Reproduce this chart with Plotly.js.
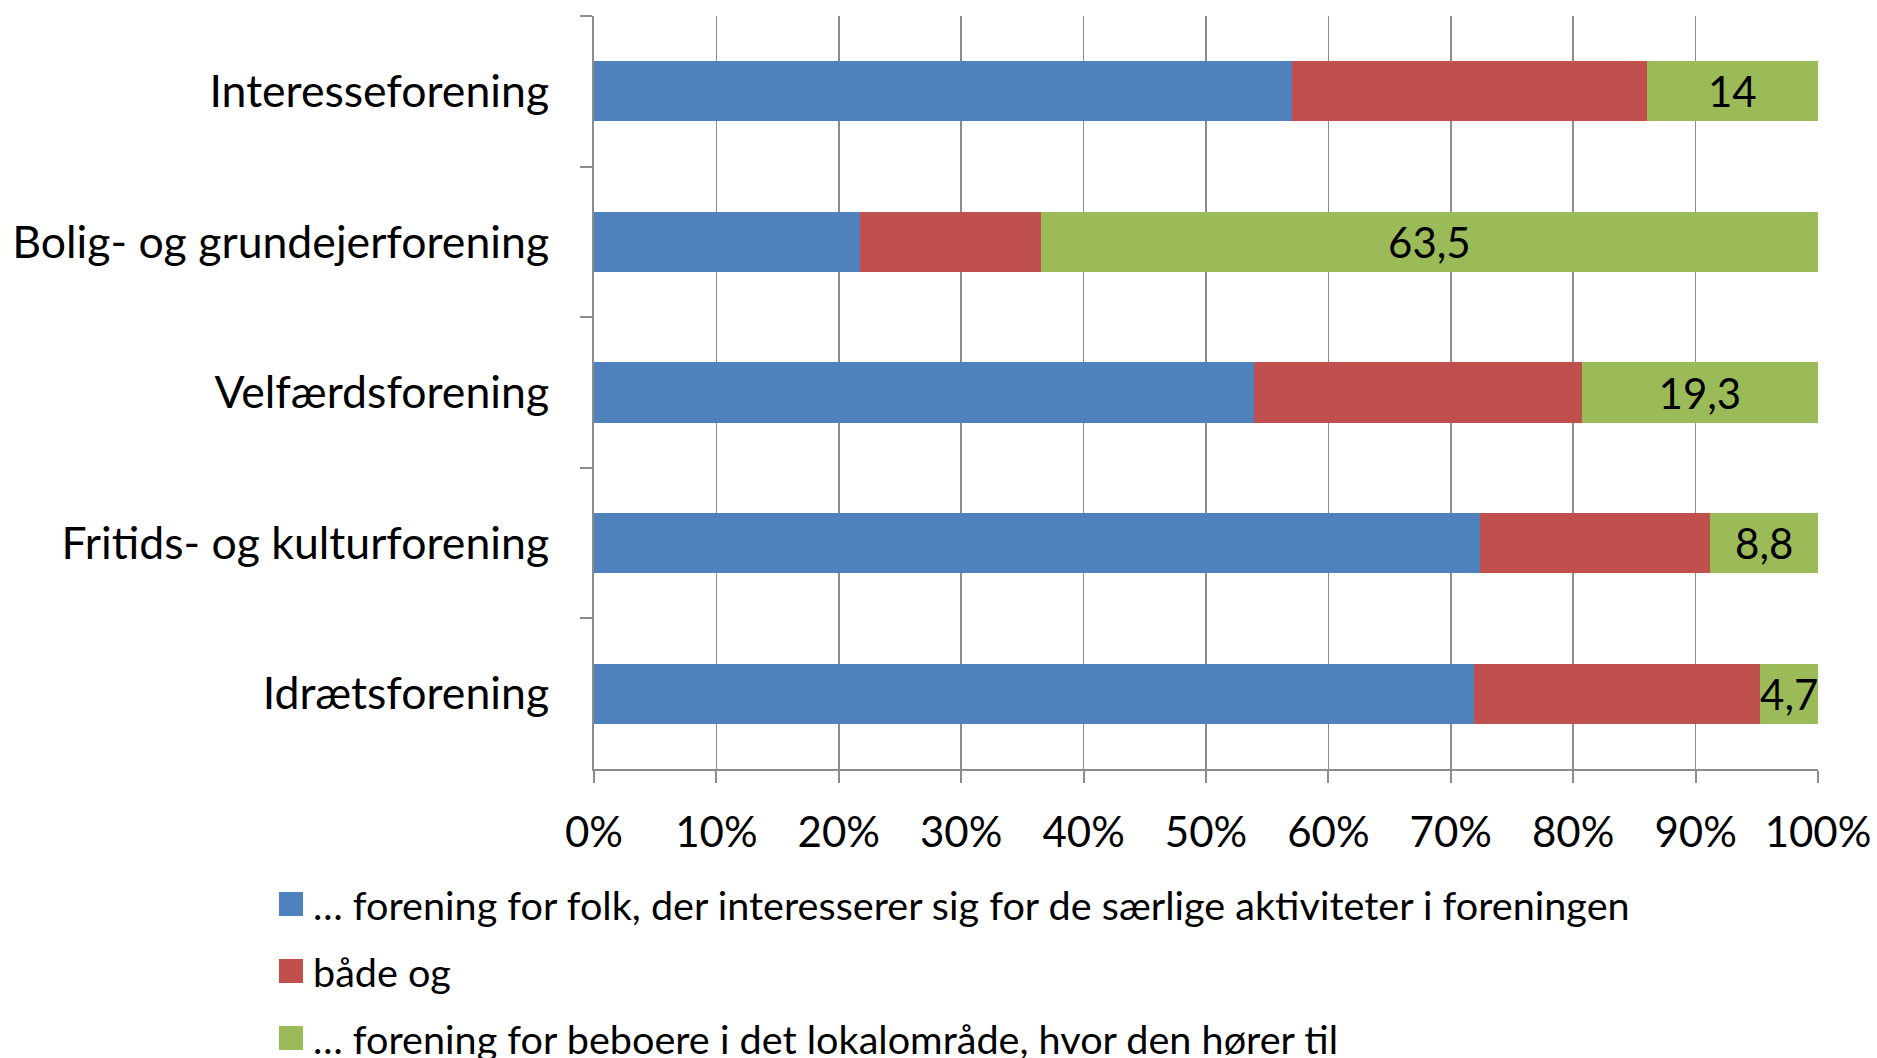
<!DOCTYPE html>
<html>
<head>
<meta charset="utf-8">
<script src="https://cdn.plot.ly/plotly-3.0.1.min.js"></script>
<style>
  html, body { margin: 0; padding: 0; background: #ffffff; }
  #chart { width: 1877px; height: 1058px; }
</style>
</head>
<body>
<div id="chart"></div>
<script>
// Categories (top to bottom as shown)
const categories = [
  'Interesseforening',
  'Bolig- og grundejerforening',
  'Velfærdsforening',
  'Fritids- og kulturforening',
  'Idrætsforening'
];

// Series names
const seriesNames = [
  '… forening for folk, der interesserer sig for de særlige aktiviteter i foreningen',
  'både og',
  '… forening for beboere i det lokalområde, hvor den hører til'
];

// Series values (percent)
const interestValues = [57.0, 21.7, 53.9, 72.4, 71.9];
const bothValues     = [29.0, 14.8, 26.8, 18.8, 23.4];
const localValues    = [14, 63.5, 19.3, 8.8, 4.7];

// X-axis tick labels
const xTickValues = [0, 10, 20, 30, 40, 50, 60, 70, 80, 90, 100];
const xTickLabels = ['0%', '10%', '20%', '30%', '40%', '50%', '60%', '70%', '80%', '90%', '100%'];

const colors = ['#4F81BD', '#C0504D', '#9BBB59'];
const FONT = 'Lato, "Open Sans", sans-serif';

const W = 1877, H = 1058;
const M = { l: 594, r: 59, t: 16, b: 289 };
const plotW = W - M.l - M.r;
const plotH = H - M.t - M.b;
const px2paperX = px => (px - M.l) / plotW;
const px2paperY = py => (H - M.b - py) / plotH;

const fmt = v => String(v).replace('.', ',');

const seriesValues = [interestValues, bothValues, localValues];

const traces = seriesValues.map((vals, i) => {
  const t = {
    type: 'bar', orientation: 'h',
    name: seriesNames[i],
    y: categories, x: vals,
    marker: { color: colors[i], line: { width: 0 } },
    hoverinfo: 'x+y',
    showlegend: false
  };
  if (i === 2) {
    t.text = vals.map(fmt);
    t.textposition = 'inside';
    t.insidetextanchor = 'middle';
    t.textangle = 0;
    t.constraintext = 'none';
    t.textfont = { family: FONT, size: 42, color: '#000000' };
  }
  return t;
});

// Legend drawn as colored squares + text (placed under the plot)
const legendRowsY = [904, 971, 1038];
const legendSquareX = [279, 303];
const legendTextX = 311;
const shapes = [];
const annotations = [];
seriesNames.forEach((name, i) => {
  const cy = legendRowsY[i];
  shapes.push({
    type: 'rect', xref: 'paper', yref: 'paper', layer: 'above',
    x0: px2paperX(legendSquareX[0]), x1: px2paperX(legendSquareX[1]),
    y0: px2paperY(cy + 12), y1: px2paperY(cy - 12),
    fillcolor: colors[i], line: { width: 0 }
  });
  annotations.push({
    xref: 'paper', yref: 'paper',
    x: px2paperX(legendTextX), y: px2paperY(cy),
    xanchor: 'left', yanchor: 'middle',
    text: name, showarrow: false,
    font: { family: FONT, size: 39.6, color: '#000000' }
  });
});

const layout = {
  width: W,
  height: H,
  paper_bgcolor: '#ffffff',
  plot_bgcolor: '#ffffff',
  barmode: 'stack',
  bargap: 0.6,
  margin: { l: M.l, r: M.r, t: M.t, b: M.b, pad: 0 },
  font: { family: FONT, size: 44, color: '#000000' },
  showlegend: false,
  xaxis: {
    range: [0, 100],
    tickvals: xTickValues,
    ticktext: xTickLabels,
    showgrid: true,
    gridcolor: '#8c8c8c',
    gridwidth: 1.5,
    showline: true,
    linecolor: '#8c8c8c',
    linewidth: 2,
    ticks: 'outside',
    ticklen: 12,
    tickwidth: 2,
    tickcolor: '#8c8c8c',
    ticklabelstandoff: 14,
    zeroline: false,
    tickfont: { family: FONT, size: 42, color: '#000000' },
    fixedrange: true
  },
  yaxis: {
    type: 'category',
    autorange: 'reversed',
    showgrid: false,
    showline: true,
    linecolor: '#8c8c8c',
    linewidth: 2,
    ticks: 'outside',
    tickson: 'boundaries',
    ticklen: 12,
    tickwidth: 2,
    tickcolor: '#8c8c8c',
    ticklabelstandoff: 34,
    tickfont: { family: FONT, size: 44.6, color: '#000000' },
    fixedrange: true
  },
  shapes: shapes,
  annotations: annotations
};

Plotly.newPlot('chart', traces, layout, { displayModeBar: false, staticPlot: true });
</script>
</body>
</html>
